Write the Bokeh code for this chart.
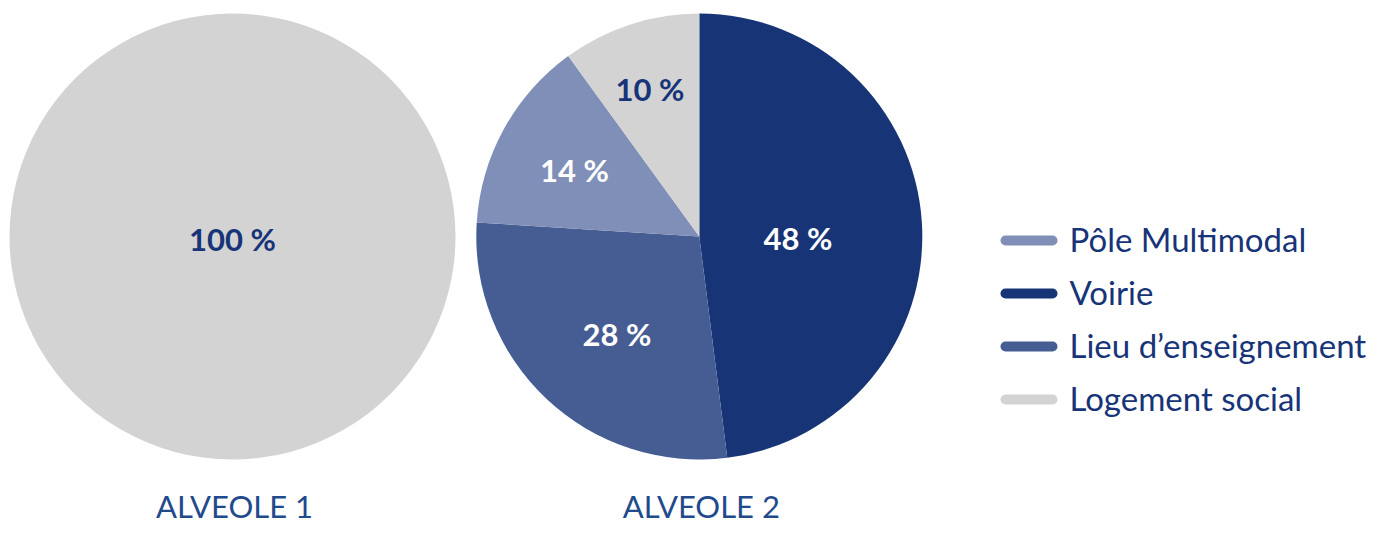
import math
from bokeh.plotting import figure
from bokeh.models import Range1d, ColumnDataSource
from bokeh.core.properties import value
from bokeh.embed import file_html
from bokeh.resources import INLINE

# ---------------- data ----------------
legend_categories = ["Pôle Multimodal", "Voirie", "Lieu d’enseignement", "Logement social"]
category_colors = ["#7f8fb7", "#173476", "#465d93", "#d3d3d3"]

alveole1_categories = ["Logement social"]
alveole1_values = [100]

alveole2_categories = ["Voirie", "Lieu d’enseignement", "Pôle Multimodal", "Logement social"]
alveole2_values = [48, 28, 14, 10]

pie_titles = ["ALVEOLE 1", "ALVEOLE 2"]

# ---------------- style ----------------
W, H = 1377, 527
NAVY = "#173478"
TITLE_BLUE = "#1f4a8c"
FONT = "Lato"
TXT_DY = -2  # visual centring correction for text

color_of = dict(zip(legend_categories, category_colors))

pies = [
    dict(cats=alveole1_categories, vals=alveole1_values, cx=232, cy=236, r=223,
         lab_r=[4], lab_nudge=[0]),
    dict(cats=alveole2_categories, vals=alveole2_values, cx=698.8, cy=236, r=223,
         lab_r=[98.8, 129.5, 140.7, 153.6], lab_nudge=[5.9, -3.7, -1.3, -0.7]),
]


def Y(img_y):
    return H - img_y


p = figure(width=W, height=H, x_range=Range1d(0, W), y_range=Range1d(0, H),
           output_backend="svg", toolbar_location=None, min_border=0)
p.axis.visible = False
p.grid.visible = False
p.outline_line_color = None
p.background_fill_color = "white"
p.border_fill_color = "white"

for i, pie in enumerate(pies):
    total = float(sum(pie["vals"]))
    starts, ends, cols, lx, ly, ltext, lcol = [], [], [], [], [], [], []
    cum = 0.0
    for j, (c, v) in enumerate(zip(pie["cats"], pie["vals"])):
        f0 = cum / total
        f1 = (cum + v) / total
        cum += v
        # clockwise from 12 o'clock
        a_start = math.pi / 2 - f1 * 2 * math.pi
        a_end = math.pi / 2 - f0 * 2 * math.pi
        if f1 - f0 >= 1.0:
            a_start += 1e-6
        starts.append(a_start)
        ends.append(a_end)
        cols.append(color_of[c])
        mid = (f0 + f1) / 2 * 360 + pie["lab_nudge"][j]
        rr = pie["lab_r"][j]
        lx.append(pie["cx"] + rr * math.sin(math.radians(mid)))
        ly.append(Y(pie["cy"] - rr * math.cos(math.radians(mid)) + TXT_DY))
        ltext.append(f"{v} %")
        lcol.append(NAVY if c == "Logement social" else "white")
    src = ColumnDataSource(dict(s=starts, e=ends, c=cols))
    p.wedge(x=pie["cx"], y=Y(pie["cy"]), radius=pie["r"], start_angle="s", end_angle="e",
            fill_color="c", line_color=None, source=src)
    lsrc = ColumnDataSource(dict(x=lx, y=ly, t=ltext, c=lcol))
    p.text(x="x", y="y", text="t", text_color="c", source=lsrc, text_font=value(FONT),
           text_font_style="bold", text_font_size="31px", text_align="center", text_baseline="middle")
    p.text(x=[pie["cx"] + 2], y=[Y(505)], text=[pie_titles[i]], text_color=TITLE_BLUE,
           text_font=value(FONT), text_font_size="31px", text_align="center", text_baseline="middle")

# legend
leg_y = [240 + 53 * k for k in range(len(legend_categories))]
p.segment(x0=[1005] * 4, y0=[Y(v) for v in leg_y], x1=[1052] * 4, y1=[Y(v) for v in leg_y],
          line_color=category_colors, line_width=10, line_cap="round")
p.text(x=[1069] * 4, y=[Y(v + TXT_DY) for v in leg_y], text=legend_categories, text_color=NAVY,
       text_font=value(FONT), text_font_size="33px", text_align="left", text_baseline="middle")

open("out.html", "w").write(file_html(p, INLINE))
